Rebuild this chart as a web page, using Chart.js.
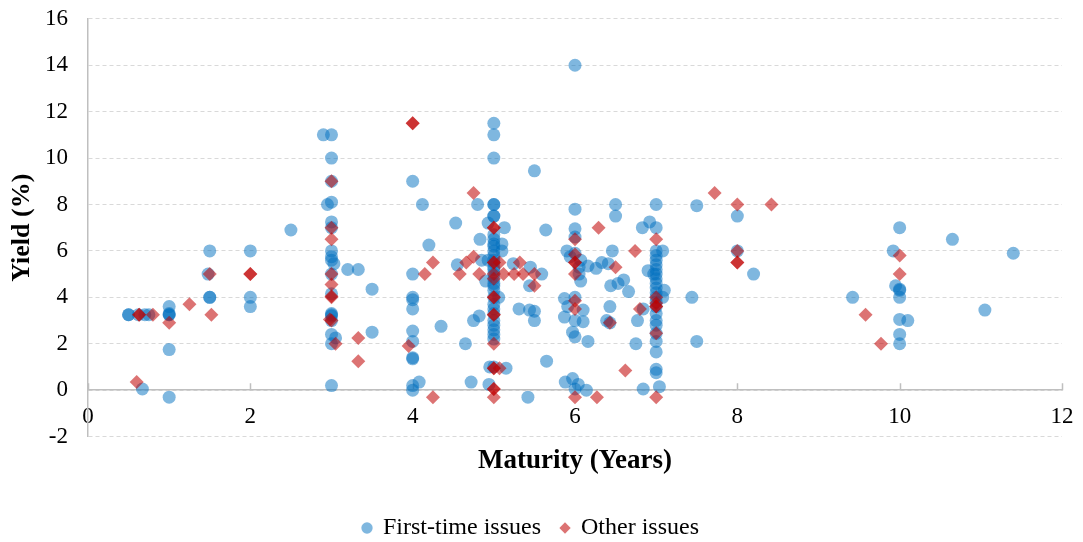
<!DOCTYPE html>
<html>
<head>
<meta charset="utf-8">
<script src="https://cdn.jsdelivr.net/npm/chart.js@4"></script>
<style>
  html, body { margin: 0; padding: 0; background: #fff; }
  #wrap { width: 1083px; height: 542px; }
</style>
</head>
<body>
<div id="wrap"><canvas id="chart" width="1083" height="542"></canvas></div>
<script>
// ---------------- DATA ----------------

const seriesNames = ["First-time issues", "Other issues"];

// first-time issues: maturity (years) / yield (%)
const firstX = [
  0.5, 0.5, 0.62, 0.7, 0.75, 1, 1, 1, 1, 1, 1, 0.67,
  1.5, 1.48, 1.5, 1.5, 2, 2, 2, 2.5,
  2.9, 3, 3, 2.95, 3, 3, 3, 3, 3, 3.03, 3, 3, 3, 3.2, 3.33, 3.5, 3, 3, 3, 3, 3, 3, 3.05, 3, 3.5, 3,
  4, 4, 4, 4, 4, 4, 4, 4, 4, 4, 4, 4.08, 4.12, 4.2, 4.53, 4.35, 4.55, 4.65, 4.72, 4.75, 4.82, 4.8, 4.83, 4.85, 4.93, 4.9,
  4.93, 5.13, 5.1, 5.1, 5.06, 4.95, 5.15, 4.94,
  5, 5, 5, 5, 5, 5, 5, 5, 5, 5, 5, 5, 5, 5, 5, 5, 5, 5, 5, 5, 5, 5, 5, 5, 5, 5, 5, 5, 5, 5, 5, 5,
  5.24, 5.45, 5.59, 5.44, 5.64, 5.5, 5.31, 5.44, 5.5, 5.5, 5.65, 5.42, 5.88,
  6, 6, 6, 6, 5.9, 5.94, 6, 6.07, 6.05, 6.05, 6.07, 5.87, 5.91, 5.87, 6.1, 6, 6.1, 6, 5.97, 6, 6.16, 5.97, 6.04, 6, 6.14,
  6.16, 6.26, 6.33, 6.41, 6.46, 6.5, 6.5, 6.44, 6.53, 6.6, 6.66, 6.43, 6.39, 6.43, 6.75, 6.77, 6.83, 6.92, 7, 6.84, 6.9, 6.84,
  7, 7, 7, 7, 7, 7, 7, 7, 7, 7, 7, 7, 7, 7, 7, 7, 7, 7, 7, 7, 7, 7,
  7.08, 7.1, 7.08, 7.04, 6.97, 7.44, 7.5, 7.5,
  8, 8, 8.2, 9.42, 10, 9.92, 9.95, 10, 10, 10, 10, 10.1, 10, 10, 10.65, 11.05, 11.4
];
const firstY = [
  3.25, 3.25, 3.25, 3.25, 3.25, 3.25, 3.25, 3.3, 3.6, 1.75, -0.3, 0.05,
  6, 5, 4, 4, 6, 4, 3.6, 6.9,
  11, 11, 10, 8, 8.1, 7.25, 6, 5.75, 5.6, 5.45, 5, 7, 9, 5.2, 5.2, 4.35, 4.15, 3.25, 3.3, 3.2, 3.0, 2.4, 2.25, 2.0, 2.5, 0.2,
  9, 5, 4, 3.9, 3.5, 2.55, 2.1, 1.35, 1.4, 0.2, 0.0, 0.35, 8, 6.25, 7.2, 2.75, 5.4, 2.0, 0.35, 3.0, 3.2, 8, 6.5, 5.6, 5.6, 4.7,
  7.2, 7.0, 6.3, 6.0, 4.0, 1.0, 0.95, 0.25,
  11.5, 11.0, 10.0, 8.0, 8.0, 7.5, 7.5, 6.7, 6.5, 6.3, 6.2, 6.0, 5.8, 5.6, 5.5, 5.3, 5.2, 5.0, 4.8, 4.6, 4.5, 4.3, 4.0, 3.7, 3.5, 3.3, 3.0, 2.8, 2.6, 2.4, 2.2, 1.0,
  5.45, 5.3, 5.0, 4.5, 6.9, 9.45, 3.5, 3.45, 3.4, 3.0, 1.25, -0.3, 0.35,
  14, 7.8, 6.95, 6.6, 6.0, 5.75, 5.9, 5.6, 5.3, 5.0, 4.7, 3.95, 3.6, 3.15, 3.45, 3.0, 2.95, 4.0, 2.5, 2.3, 2.1, 0.5, 0.25, 0.05, 0.0,
  5.35, 5.25, 5.5, 5.45, 6.0, 8.0, 7.5, 4.5, 4.6, 4.75, 4.25, 3.6, 3.0, 2.9, 2.0, 3.0, 7, 7.25, 7, 0.05, 5.15, 3.5,
  8.0, 6.0, 5.8, 5.6, 5.4, 5.2, 5.0, 4.8, 4.6, 4.4, 4.2, 4.0, 3.8, 3.6, 3.3, 3.0, 2.8, 2.45, 2.1, 1.65, 0.9, 0.75,
  6, 4.3, 4.0, 0.15, 5.0, 4.0, 7.95, 2.1,
  7.5, 6, 5.0, 4.0, 7, 6, 4.5, 4.3, 4.35, 4, 3.05, 3.0, 2.4, 2.0, 6.5, 3.45, 5.9
];

// other issues: maturity (years) / yield (%)
const otherX = [
  0.63, 0.63, 0.8, 1, 1.25, 0.6, 1.5, 1.52, 2, 2,
  3, 3, 3, 3, 3, 3, 3, 3, 2.98, 3.05, 3.33, 3.33,
  4, 4, 4.75, 5, 5, 4.25, 4.15, 4.58, 4.66, 4.75, 4.82, 5, 5, 5.07, 5, 5, 5.12, 5.25, 5.32, 5.36, 5.5, 5.5,
  5, 5, 5, 5, 5, 3.95, 5, 5, 5.07, 5, 5, 5, 4.25,
  6, 6, 6, 6, 6, 6, 6, 6, 6.29, 6.5, 6.43, 6.27, 6.62, 6.74, 6.8, 7, 7, 7, 7, 7, 7, 7,
  7.72, 8, 8.42, 8, 8, 8, 9.58, 9.77, 10, 10
];
const otherY = [
  3.25, 3.25, 3.25, 2.9, 3.7, 0.35, 5, 3.25, 5, 5,
  9, 7, 6.5, 5, 4.55, 4, 4.05, 3.0, 3.05, 2.0, 2.25, 1.25,
  11.5, 11.5, 8.5, 7, 7, 5.5, 5, 5, 5.5, 5.75, 5, 5.5, 5.5, 5.5, 5, 4.8, 5, 5, 5.5, 5, 5, 4.5,
  4, 4, 3.25, 3.25, 2, 1.9, 0.95, 0.95, 0.95, 0.05, 0.05, -0.3, -0.3,
  6.5, 5.85, 5.5, 5.5, 5.0, 3.85, 3.5, -0.3, 7, 5.3, 2.9, -0.3, 0.85, 6, 3.5, 6.5, 4, 3.75, 3.6, 3.6, 2.45, -0.3,
  8.5, 8, 8, 6, 5.5, 5.5, 3.25, 2.0, 5.8, 5
];

const xTicks = [0, 2, 4, 6, 8, 10, 12];
const yTicks = [-2, 0, 2, 4, 6, 8, 10, 12, 14, 16];

// ---------------- CHART ----------------

const serif = "'Liberation Serif', 'Times New Roman', serif";

const toPoints = (xs, ys) => xs.map((x, i) => ({ x, y: ys[i] }));

// small tick marks pointing up from the x axis line (y = 0)
const innerTicks = {
  id: "innerTicks",
  beforeDatasetsDraw(chart) {
    const { ctx, scales: { x, y } } = chart;
    const y0 = y.getPixelForValue(0);
    ctx.save();
    ctx.strokeStyle = "#BFBFBF";
    ctx.lineWidth = 1.5;
    ctx.beginPath();
    xTicks.forEach(v => {
      const px = Math.round(x.getPixelForValue(v)) + 0.5;
      ctx.moveTo(px, y0);
      ctx.lineTo(px, y0 - 7);
    });
    ctx.stroke();
    ctx.restore();
  }
};

const ctx = document.getElementById("chart").getContext("2d");

const chart = new Chart(ctx, {
  type: "scatter",
  data: {
    datasets: [
      {
        label: seriesNames[0],
        data: toPoints(firstX, firstY),
        pointStyle: "circle",
        pointRadius: 6.5,
        pointHoverRadius: 6.5,
        backgroundColor: "rgba(0,112,192,0.5)",
        borderWidth: 0,
        order: 1
      },
      {
        label: seriesNames[1],
        data: toPoints(otherX, otherY),
        pointStyle: "rectRot",
        pointRadius: 7,
        pointHoverRadius: 7,
        backgroundColor: "rgba(192,0,0,0.55)",
        borderWidth: 0,
        order: 0
      }
    ]
  },
  options: {
    responsive: false,
    animation: false,
    events: [],
    layout: { padding: { top: 4, right: 21, bottom: -8, left: 0 } },
    scales: {
      x: {
        type: "linear",
        position: { y: 0 },
        min: 0,
        max: 12,
        afterBuildTicks: (s) => { s.ticks = xTicks.map(v => ({ value: v })); },
        ticks: { color: "#000", font: { family: serif, size: 23 }, padding: 4 },
        // tick marks kept invisible, they only push the labels down
        grid: { drawOnChartArea: false, drawTicks: true, tickLength: 9, tickColor: "rgba(0,0,0,0)" },
        border: { display: true, color: "#BFBFBF", width: 1.5 }
      },
      x2: {
        type: "linear",
        axis: "x",
        position: "bottom",
        min: 0,
        max: 12,
        ticks: { display: false },
        grid: { display: false },
        border: { display: false },
        title: {
          display: true,
          text: "Maturity (Years)",
          color: "#000",
          font: { family: serif, size: 27, weight: "bold" },
          padding: { top: 0, bottom: 19 }
        }
      },
      y: {
        type: "linear",
        min: -2,
        max: 16,
        afterBuildTicks: (s) => { s.ticks = yTicks.map(v => ({ value: v })); },
        afterFit: (s) => { s.width = 88; },
        ticks: { color: "#000", font: { family: serif, size: 23 }, padding: 5 },
        grid: { color: "#D9D9D9", drawTicks: true, tickLength: 15, tickColor: "rgba(0,0,0,0)" },
        border: { display: true, color: "#BFBFBF", width: 1.5, dash: [4, 3] },
        title: {
          display: true,
          text: "Yield (%)",
          color: "#000",
          font: { family: serif, size: 26, weight: "bold" },
          padding: { top: 7, bottom: 4 }
        }
      }
    },
    plugins: {
      legend: {
        position: "bottom",
        labels: {
          usePointStyle: true,
          boxWidth: 8,
          boxHeight: 8,
          padding: 20,
          color: "#000",
          font: { family: serif, size: 24 },
          sort: (a, b) => a.datasetIndex - b.datasetIndex
        }
      },
      tooltip: { enabled: false }
    }
  },
  plugins: [innerTicks]
});
</script>
</body>
</html>
